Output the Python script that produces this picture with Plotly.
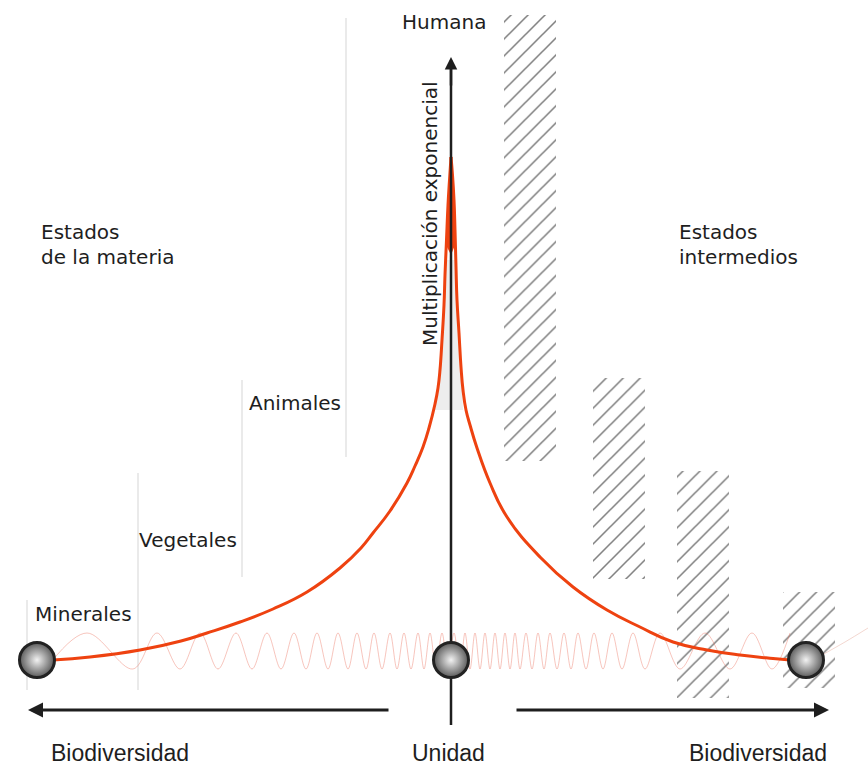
import plotly.graph_objects as go

# ---------------- data (diagram coordinates: x 0..868, y 0..765 downward) ----------------
# main red curve (left branch and right branch)
left_curve_x = [53, 90, 140, 181, 207, 240, 273, 307, 340, 361, 373, 390, 407, 415, 423, 429, 435,
                438, 440, 442, 444, 445, 446.5, 448, 449.5, 451]
left_curve_y = [660, 657, 650, 641, 633, 622, 609, 592, 568, 548, 533, 511, 483, 466, 447, 428, 404,
                388, 370, 340, 305, 275, 240, 205, 180, 157]
right_curve_x = [451, 452.5, 454, 455, 456, 457, 459, 461, 463, 466, 470, 477, 490, 507, 540, 573,
                 607, 640, 673, 707, 740, 773, 790]
right_curve_y = [157, 175, 200, 230, 267, 300, 333, 367, 390, 410, 425, 448, 483, 517, 557, 587,
                 610, 627, 642, 650, 655, 658.5, 660]

# red wedge at the summit and light band below it
wedge_x = [451, 454, 455, 451, 446, 448]
wedge_y = [157, 200, 245, 255, 245, 200]
band_x = [445, 456, 459, 463, 435, 442]
band_y = [260, 260, 333, 410, 410, 333]

# hatched blocks (left, right, top, bottom)
hatch_left = [504, 593, 677, 783]
hatch_right = [556, 645, 729, 835]
hatch_top = [15, 378, 471, 592]
hatch_bottom = [461, 579, 698, 688]

# faint grey guide lines (x, top, bottom)
guide_x = [27, 138, 242, 346]
guide_top = [600, 473, 380, 18]
guide_bottom = [690, 690, 577, 457]

# oscillation extrema (alternating low / high)
wave_extrema_x = [52, 87, 133, 157, 180, 200, 218, 236, 252, 267, 281, 294, 306, 317, 328, 338, 348,
                  357, 366, 374, 382, 390, 397, 404, 411, 418, 424, 430, 436, 442, 448, 454, 460,
                  465, 470, 475, 480, 485, 490, 495, 500, 505, 510, 515, 520, 526, 532, 538, 544,
                  550, 557, 564, 571, 578, 586, 594, 603, 612, 622, 633, 645, 660, 680, 705, 730,
                  752, 772, 790]
wave_low = 669
wave_high = 633
tail_x = [822, 845, 868]
tail_y = [655, 642, 628]

# spheres
sphere_x = [37, 451, 806]
sphere_y = [660, 660, 660]

# axes (vertical: bottom, arrow tip; horizontal arrows)
vaxis_x = 451
vaxis_bottom = 725
vaxis_tip = 57
harrow_y = 710
harrow_left = (390, 28)
harrow_right = (515, 829)

# labels
labels = [
    ("Humana", 444, 22, "center"),
    ("Estados", 39, 232, "left"),
    ("de la materia", 39, 257, "left"),
    ("Estados", 677, 232, "left"),
    ("intermedios", 677, 257, "left"),
    ("Animales", 247, 403, "left"),
    ("Vegetales", 137, 540, "left"),
    ("Minerales", 33, 614, "left"),
]
bottom_labels = [("Biodiversidad", 49, "left"), ("Unidad", 448, "center"), ("Biodiversidad", 829, "right")]
bottom_label_y = 753
vertical_label = ("Multiplicación exponencial", 430, 214)

INK = "#1e1e1e"
RED = "#ee4210"

fig = go.Figure()

# hatched blocks
fig.add_trace(go.Bar(
    x=[(l + r) / 2 for l, r in zip(hatch_left, hatch_right)],
    y=[b - t for t, b in zip(hatch_top, hatch_bottom)],
    base=hatch_top,
    width=[r - l for l, r in zip(hatch_left, hatch_right)],
    marker=dict(color="white", line=dict(width=0),
                pattern=dict(shape="/", fgcolor="#000000", bgcolor="white", size=12, solidity=0.13)),
    hoverinfo="skip", showlegend=False))

# guide lines
for gx, gt, gb in zip(guide_x, guide_top, guide_bottom):
    fig.add_trace(go.Scatter(x=[gx, gx], y=[gt, gb], mode="lines",
                             line=dict(color="#e3e3e3", width=1.5),
                             hoverinfo="skip", showlegend=False))

# oscillation
wy = [wave_low if i % 2 == 0 else wave_high for i in range(len(wave_extrema_x))]
wy[0] = 661
fig.add_trace(go.Scatter(x=wave_extrema_x, y=wy, mode="lines",
                         line=dict(color="rgba(236,110,90,0.40)", width=1, shape="spline", smoothing=1.0),
                         hoverinfo="skip", showlegend=False))
fig.add_trace(go.Scatter(x=tail_x, y=tail_y, mode="lines",
                         line=dict(color="rgba(220,140,120,0.35)", width=1, shape="spline"),
                         hoverinfo="skip", showlegend=False))

# summit band and wedge
fig.add_trace(go.Scatter(x=band_x, y=band_y, mode="lines", fill="toself",
                         fillcolor="rgba(215,215,215,0.45)", line=dict(width=0),
                         hoverinfo="skip", showlegend=False))
fig.add_trace(go.Scatter(x=wedge_x, y=wedge_y, mode="lines", fill="toself",
                         fillcolor=RED, line=dict(width=0, color=RED),
                         hoverinfo="skip", showlegend=False))

# curve
fig.add_trace(go.Scatter(x=left_curve_x, y=left_curve_y, mode="lines",
                         line=dict(color=RED, width=3, shape="spline", smoothing=1.3),
                         hoverinfo="skip", showlegend=False))
fig.add_trace(go.Scatter(x=right_curve_x, y=right_curve_y, mode="lines",
                         line=dict(color=RED, width=3, shape="spline", smoothing=1.3),
                         hoverinfo="skip", showlegend=False))

# vertical axis line
fig.add_trace(go.Scatter(x=[vaxis_x, vaxis_x], y=[vaxis_bottom, vaxis_tip + 8], mode="lines",
                         line=dict(color=INK, width=2.5),
                         hoverinfo="skip", showlegend=False))

# spheres
fig.add_trace(go.Scatter(x=sphere_x, y=sphere_y, mode="markers",
                         marker=dict(size=35, color="#5a5a5a",
                                     gradient=dict(type="radial", color="#f2f2f2"),
                                     line=dict(color="#222222", width=3)),
                         hoverinfo="skip", showlegend=False))

annotations = []
# arrow heads
annotations.append(dict(x=vaxis_x, y=vaxis_tip, ax=vaxis_x, ay=vaxis_tip + 30, xref="x", yref="y",
                        axref="x", ayref="y", showarrow=True, arrowhead=2, arrowsize=1,
                        arrowwidth=2.5, arrowcolor=INK, text="", standoff=0))
for (x0, x1) in (harrow_left, harrow_right):
    annotations.append(dict(x=x1, y=harrow_y, ax=x0, ay=harrow_y, xref="x", yref="y",
                            axref="x", ayref="y", showarrow=True, arrowhead=2, arrowsize=1,
                            arrowwidth=3, arrowcolor=INK, text="", standoff=0))

for txt, x, y, anchor in labels:
    annotations.append(dict(x=x, y=y, xref="x", yref="y", text=txt, showarrow=False,
                            xanchor=anchor, yanchor="middle",
                            font=dict(family="DejaVu Sans", size=20, color=INK)))
for txt, x, anchor in bottom_labels:
    annotations.append(dict(x=x, y=bottom_label_y, xref="x", yref="y", text=txt, showarrow=False,
                            xanchor=anchor, yanchor="middle",
                            font=dict(family="Liberation Sans", size=23, color=INK)))
annotations.append(dict(x=vertical_label[1], y=vertical_label[2], xref="x", yref="y",
                        text=vertical_label[0], showarrow=False, textangle=-90,
                        xanchor="center", yanchor="middle",
                        font=dict(family="DejaVu Sans", size=20, color=INK)))

fig.update_layout(
    width=868, height=765,
    margin=dict(l=0, r=0, t=0, b=0),
    paper_bgcolor="white", plot_bgcolor="white",
    xaxis=dict(range=[0, 868], visible=False, fixedrange=True),
    yaxis=dict(range=[765, 0], visible=False, fixedrange=True),
    annotations=annotations,
    showlegend=False,
)

fig.write_html("out.html", config={"displayModeBar": False},
               post_script="document.body.style.margin='0';document.body.style.overflow='hidden';")
